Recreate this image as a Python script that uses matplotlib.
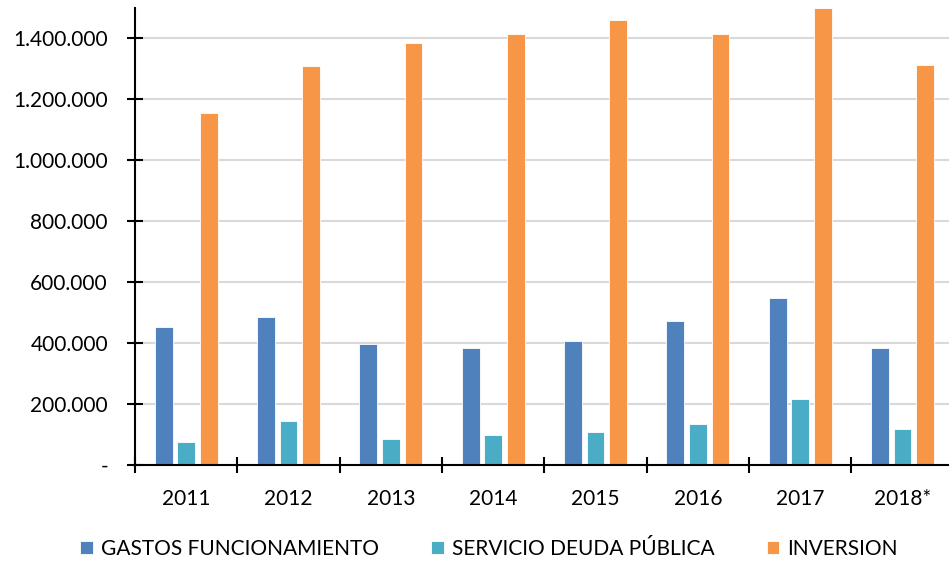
import numpy as np
from matplotlib import pyplot as plt
from matplotlib.ticker import FuncFormatter, FixedLocator

YEARS = ['2011', '2012', '2013', '2014', '2015', '2016', '2017', '2018*']
GASTOS = [452000, 485000, 397000, 385000, 407000, 472000, 548000, 384000]
DEUDA = [74000, 144000, 86000, 98000, 108000, 134000, 216000, 118000]
INVERSION = [1155000, 1311000, 1384000, 1415000, 1461000, 1414000, 1500000, 1314000]

SERIES_NAMES = ['GASTOS FUNCIONAMIENTO', 'SERVICIO DEUDA PÚBLICA', 'INVERSION']
COLORS = ['#4F81BD', '#4BACC6', '#F79646']

plt.rcParams['font.family'] = ['Lato', 'DejaVu Sans']


def thousands(value, _pos):
    """Format like Excel: dots as thousands separator, dash for zero."""
    if value == 0:
        return '-'
    return f'{value:,.0f}'.replace(',', '.')


fig = plt.figure(figsize=(9.49, 5.62), dpi=100)
ax = fig.add_axes([135 / 949, 1 - 465 / 562, 818.7 / 949, 457 / 562])

x = np.arange(len(YEARS))
bar_width = 0.173
offset = 0.22
for i, (values, name, color) in enumerate(zip([GASTOS, DEUDA, INVERSION], SERIES_NAMES, COLORS)):
    ax.bar(x + (i - 1) * offset, values, bar_width, color=color, label=name,
           edgecolor='white', linewidth=0.6, zorder=3)

ax.set_xlim(-0.5, len(YEARS) - 0.5)
ax.set_ylim(0, 1500000)

# Y axis
ax.set_yticks(np.arange(0, 1400001, 200000))
ax.yaxis.set_major_formatter(FuncFormatter(thousands))
ax.grid(axis='y', color='#D9D9D9', linewidth=1.5, zorder=0)
ax.tick_params(axis='y', direction='inout', length=11, width=1.5, pad=14, labelsize=15)

# X axis: labels at centres, tick marks between categories
ax.set_xticks(x)
ax.set_xticklabels(YEARS)
ax.tick_params(axis='x', which='major', length=0, pad=17, labelsize=15)
ax.xaxis.set_minor_locator(FixedLocator(np.arange(-0.5, len(YEARS), 1.0)))
ax.tick_params(axis='x', which='minor', direction='inout', length=11, width=1.5)

for side in ['top', 'right']:
    ax.spines[side].set_visible(False)
for side in ['left', 'bottom']:
    ax.spines[side].set_linewidth(1.5)
    ax.spines[side].set_zorder(4)

fig.legend(loc='center', bbox_to_anchor=(489 / 949, 1 - 549 / 562), ncol=3, frameon=False,
           fontsize=15, handlelength=0.6, handleheight=0.6, handletextpad=0.4,
           columnspacing=2.5)

fig.savefig('out.png', dpi=100)
